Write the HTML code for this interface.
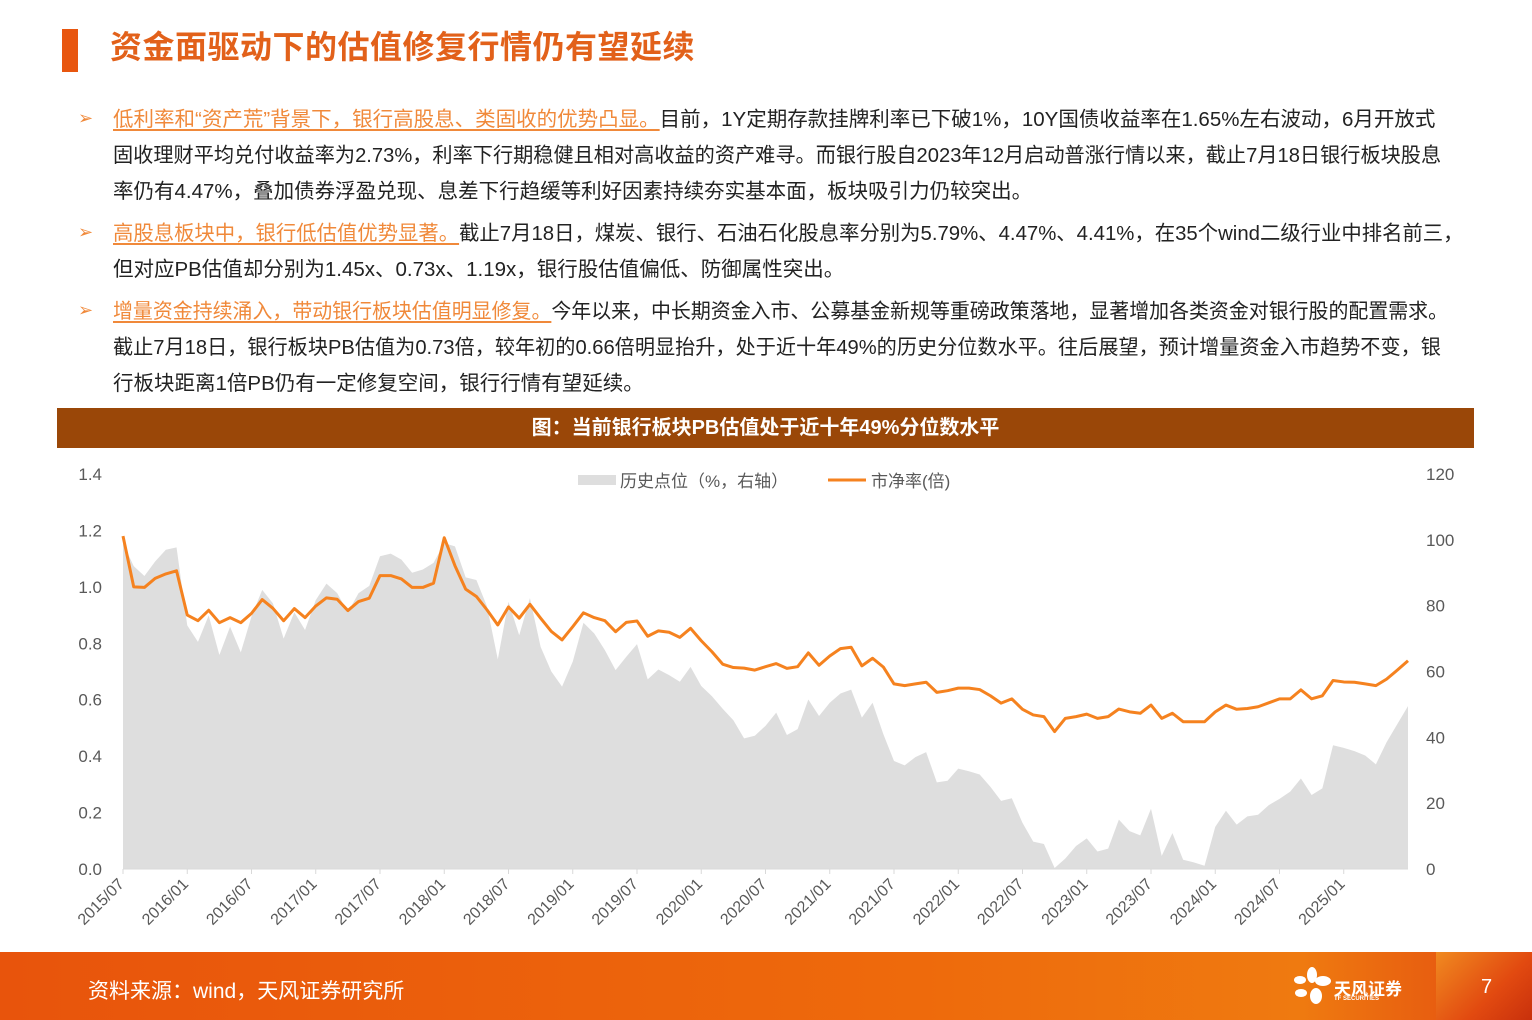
<!DOCTYPE html>
<html><head><meta charset="utf-8">
<style>
body{margin:0;width:1532px;height:1020px;position:relative;background:#fff;font-family:"Liberation Sans","Noto Sans CJK SC",sans-serif;overflow:hidden}
.abs{position:absolute}
.title{left:110px;top:26px;font-size:32px;color:#e2611a;font-weight:bold;letter-spacing:0.5px;line-height:42px}
.bar{left:62px;top:29px;width:16px;height:43px;background:#e8560f}
.line{position:absolute;left:113px;font-size:20.5px;color:#222;white-space:nowrap;line-height:24px;transform-origin:0 0}
.hl{color:#f0893a;text-decoration:underline;text-underline-offset:3px}
.bul{position:absolute;left:78px;color:#f0893a;font-size:18px}
.band{left:57px;top:408px;width:1417px;height:40px;background:#9a4708;color:#fff;font-weight:bold;font-size:20px;text-align:center;line-height:40px}
.footer{left:0;top:952px;width:1532px;height:68px;background:linear-gradient(90deg,#e8540c,#ee6a0c 60%,#ef7a10 85%,#e24a10)}
</style></head><body>
<div class="abs bar"></div>
<div class="abs title">资金面驱动下的估值修复行情仍有望延续</div>

<div class="bul" style="top:108px">➢</div>
<div class="line" style="top:108px"><span class="hl">低利率和“资产荒”背景下，银行高股息、类固收的优势凸显。</span>目前，1Y定期存款挂牌利率已下破1%，10Y国债收益率在1.65%左右波动，6月开放式</div>
<div class="line" style="top:144px;transform:scaleX(0.984)">固收理财平均兑付收益率为2.73%，利率下行期稳健且相对高收益的资产难寻。而银行股自2023年12月启动普涨行情以来，截止7月18日银行板块股息</div>
<div class="line" style="top:180px">率仍有4.47%，叠加债券浮盈兑现、息差下行趋缓等利好因素持续夯实基本面，板块吸引力仍较突出。</div>

<div class="bul" style="top:222px">➢</div>
<div class="line" style="top:222px;transform:scaleX(0.993)"><span class="hl">高股息板块中，银行低估值优势显著。</span>截止7月18日，煤炭、银行、石油石化股息率分别为5.79%、4.47%、4.41%，在35个wind二级行业中排名前三，</div>
<div class="line" style="top:258px">但对应PB估值却分别为1.45x、0.73x、1.19x，银行股估值偏低、防御属性突出。</div>

<div class="bul" style="top:300px">➢</div>
<div class="line" style="top:300px;transform:scaleX(0.972)"><span class="hl">增量资金持续涌入，带动银行板块估值明显修复。</span>今年以来，中长期资金入市、公募基金新规等重磅政策落地，显著增加各类资金对银行股的配置需求。</div>
<div class="line" style="top:336px;transform:scaleX(0.983)">截止7月18日，银行板块PB估值为0.73倍，较年初的0.66倍明显抬升，处于近十年49%的历史分位数水平。往后展望，预计增量资金入市趋势不变，银</div>
<div class="line" style="top:372px">行板块距离1倍PB仍有一定修复空间，银行行情有望延续。</div>

<div class="abs band">图：当前银行板块PB估值处于近十年49%分位数水平</div>

<svg class="abs" style="left:0;top:0" width="1532" height="1020" id="chart"></svg>

<div class="abs footer"></div>
<div class="abs" style="left:88px;top:975px;color:#fff;font-size:21px">资料来源：wind，天风证券研究所</div>
<div class="abs" style="left:1292px;top:966px;width:40px;height:40px">
<svg width="40" height="40"><g fill="#fff"><ellipse cx="20" cy="9" rx="5" ry="8"/><ellipse cx="8" cy="14" rx="6" ry="4"/><ellipse cx="31" cy="15" rx="8" ry="5"/><ellipse cx="9" cy="27" rx="6" ry="4"/><ellipse cx="24" cy="30" rx="6" ry="8"/></g></svg></div>
<div class="abs" style="left:1334px;top:975px;color:#fff;font-size:17px;font-weight:bold">天风证券</div>
<div class="abs" style="left:1334px;top:996px;color:#fff;font-size:6px;font-weight:bold">TF SECURITIES</div>
<div class="abs" style="left:1436px;top:952px;width:96px;height:68px;background:linear-gradient(135deg,#f08a20,#e24a10 60%,#c8300c)"></div>
<div class="abs" style="left:1481px;top:976px;color:#fff;font-size:20px">7</div>

<script>
const startYear = 2015, startMonth = 7;
const pbValues = [1.18,1.00,0.998,1.03,1.046,1.057,0.90,0.88,0.917,0.873,0.891,0.873,0.906,0.955,0.924,0.88,0.923,0.891,0.932,0.961,0.956,0.916,0.948,0.96,1.04,1.04,1.028,0.998,0.998,1.013,1.174,1.075,0.992,0.966,0.918,0.865,0.929,0.889,0.938,0.889,0.842,0.812,0.859,0.908,0.891,0.88,0.841,0.874,0.879,0.825,0.844,0.839,0.821,0.853,0.809,0.77,0.726,0.714,0.712,0.705,0.717,0.728,0.711,0.717,0.766,0.722,0.755,0.781,0.786,0.72,0.747,0.716,0.656,0.65,0.656,0.662,0.626,0.632,0.641,0.641,0.636,0.614,0.588,0.603,0.566,0.546,0.54,0.487,0.534,0.54,0.549,0.534,0.54,0.567,0.557,0.552,0.581,0.534,0.552,0.522,0.522,0.522,0.557,0.581,0.566,0.569,0.575,0.589,0.603,0.603,0.635,0.603,0.614,0.668,0.663,0.662,0.656,0.65,0.673,0.705,0.738];
const pctValues = [99,92,89,93.4,97,97.7,74,69,77,65,73.6,65.8,76.7,84.8,80.7,70,78,72.6,81.7,86.7,83.8,78,83.8,86,95,95.8,94,90,91,93,99,98,88.6,87.8,79.7,63.7,81.2,71,82.3,67.5,60,55.4,63,74.8,71.6,66.5,60.4,64.5,68.3,57.6,60.6,58.9,56.9,61.4,55.6,52.5,48.7,45.2,39.7,40.5,43.5,47.5,40.7,42.5,51.5,46.5,50.5,53.3,54.5,46,50.5,41,32.8,31.5,34,35.5,26.3,26.8,30.5,29.7,28.7,25,20.7,21.5,14,8.3,7.6,0.3,3.2,7,9.3,5.3,6.2,15,11.5,10.2,18.3,4,10.9,2.8,2,1,12.8,17.7,13.5,16,16.5,19.4,21.3,23.5,27.5,22.5,24.5,37.6,36.8,35.8,34.5,31.8,38.5,44,49.5];
const leftTicks = ["0.0","0.2","0.4","0.6","0.8","1.0","1.2","1.4"];
const rightTicks = ["0","20","40","60","80","100","120"];

const NS="http://www.w3.org/2000/svg";
const svg=document.getElementById('chart');
const X0=123,X1=1408,Y0=869,Y1=474;
const n=pbValues.length;
const x=i=>X0+(X1-X0)*i/(n-1);
const yL=v=>Y0-(Y0-Y1)*v/1.4;
const yR=v=>Y0-(Y0-Y1)*v/120;
function mk(tag,attrs){const e=document.createElementNS(NS,tag);for(const k in attrs)e.setAttribute(k,attrs[k]);svg.appendChild(e);return e;}

let d=`M${x(0)},${Y0}`;
pctValues.forEach((v,i)=>{d+=` L${x(i)},${yR(v)}`;});
d+=` L${x(pctValues.length-1)},${Y0} Z`;
const area=mk('path',{d:d,fill:'#dedede'});



const ax=mk('line',{x1:X0,x2:X1,y1:Y0,y2:Y0,stroke:'#d9d9d9','stroke-width':1});



const pts=pbValues.map((v,i)=>`${x(i)},${yL(v)}`).join(' ');
const ln=mk('polyline',{points:pts,fill:'none',stroke:'#f5821f','stroke-width':3,'stroke-linejoin':'round'});



leftTicks.forEach((t,i)=>{const e=mk('text',{x:102,y:yL(i*0.2)+6,'text-anchor':'end','font-size':17,fill:'#595959','font-family':'Liberation Sans, sans-serif'});e.textContent=t;

});
rightTicks.forEach((t,i)=>{const e=mk('text',{x:1426,y:yR(i*20)+6,'font-size':17,fill:'#595959','font-family':'Liberation Sans, sans-serif'});e.textContent=t;

});

for(let i=0;i<n-1;i+=6){
  const m=startMonth-1+i;const yr=startYear+Math.floor(m/12);const mo=(m%12)+1;
  const lbl=yr+'/'+(mo<10?'0'+mo:mo);
  const tk=mk('line',{x1:x(i),x2:x(i),y1:Y0,y2:Y0+5,stroke:'#d9d9d9'});
  
  
  const e=mk('text',{x:x(i)+2,y:Y0+16,'text-anchor':'end','font-size':16,fill:'#595959','font-family':'Liberation Sans, sans-serif',transform:`rotate(-45 ${x(i)+2} ${Y0+16})`});
  e.textContent=lbl;
  
  
}

const l1=mk('rect',{x:578,y:475,width:38,height:10,fill:'#dedede'});


const t1=mk('text',{x:620,y:487,'font-size':17,fill:'#595959','font-family':'Liberation Sans, Noto Sans CJK SC, sans-serif'});t1.textContent='历史点位（%，右轴）';


const l2=mk('line',{x1:828,x2:866,y1:480,y2:480,stroke:'#f5821f','stroke-width':3});


const t2=mk('text',{x:871,y:487,'font-size':17,fill:'#595959','font-family':'Liberation Sans, Noto Sans CJK SC, sans-serif'});t2.textContent='市净率(倍)';


</script>
</body></html>
